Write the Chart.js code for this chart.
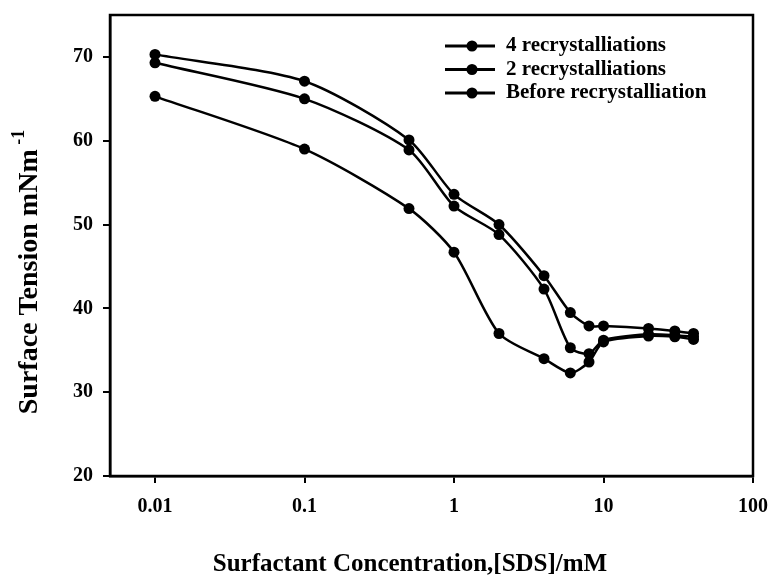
<!DOCTYPE html>
<html>
<head>
<meta charset="utf-8">
<script src="https://cdn.jsdelivr.net/npm/chart.js@4"></script>
<style>
  body { margin: 0; background: #fff; }
</style>
</head>
<body>
<canvas id="chart" width="772" height="584"></canvas>
<script>
const concentrations = [0.01, 0.1, 0.5, 1, 2, 4, 6, 8, 10, 20, 30, 40];
const fourRecryst = [70.3, 67.1, 60.1, 53.6, 50.0, 43.9, 39.5, 37.9, 37.9, 37.6, 37.3, 37.0];
const twoRecryst = [69.3, 65.0, 58.9, 52.2, 48.8, 42.3, 35.3, 34.6, 36.2, 36.9, 36.8, 36.6];
const beforeRecryst = [65.3, 59.0, 51.9, 46.7, 37.0, 34.0, 32.3, 33.6, 36.0, 36.7, 36.6, 36.3];
const seriesLabels = ['4 recrystalliations', '2 recrystalliations', 'Before recrystalliation'];
const xTicks = [0.01, 0.1, 1, 10, 100];
const yTicks = [20, 30, 40, 50, 60, 70];

const serif = '"Liberation Serif", "Times New Roman", serif';

function toPoints(values) {
    return values.map((v, i) => ({ x: concentrations[i], y: v }));
}

function series(label, values) {
    return {
        label: label,
        data: toPoints(values),
        borderColor: '#000',
        backgroundColor: '#000',
        borderWidth: 2.5,
        pointRadius: 5.5,
        pointBorderWidth: 0,
        tension: 0.25
    };
}

// box round the plot area
const framePlugin = {
    id: 'frame',
    beforeDatasetsDraw(chart) {
        const { ctx, chartArea: a } = chart;
        ctx.save();
        ctx.strokeStyle = '#000';
        ctx.lineWidth = 2.5;
        ctx.strokeRect(a.left, a.top, a.right - a.left, a.bottom - a.top);
        ctx.restore();
    }
};

// legend sits inside the plot, top right
const legendPlugin = {
    id: 'insideLegend',
    afterDraw(chart) {
        const ctx = chart.ctx;
        ctx.save();
        ctx.font = 'bold 21px ' + serif;
        ctx.textBaseline = 'middle';
        ctx.fillStyle = '#000';
        ctx.strokeStyle = '#000';
        chart.data.datasets.forEach((ds, i) => {
            const y = 46 + i * 23.5;
            ctx.lineWidth = 3;
            ctx.beginPath();
            ctx.moveTo(445, y);
            ctx.lineTo(495, y);
            ctx.stroke();
            ctx.beginPath();
            ctx.arc(472, y, 5.5, 0, Math.PI * 2);
            ctx.fill();
            ctx.fillText(ds.label, 506, y);
        });
        ctx.restore();
    }
};

// axis titles (y title has a superscript)
const titlesPlugin = {
    id: 'axisTitles',
    afterDraw(chart) {
        const ctx = chart.ctx;
        ctx.save();
        ctx.fillStyle = '#000';
        ctx.textBaseline = 'middle';

        ctx.font = 'bold 25px ' + serif;
        ctx.textAlign = 'center';
        ctx.fillText('Surfactant Concentration,[SDS]/mM', 410, 565);

        const main = 'Surface Tension mNm';
        const sup = ' -1';
        ctx.translate(30, 272);
        ctx.rotate(-Math.PI / 2);
        ctx.font = 'bold 28px ' + serif;
        const wMain = ctx.measureText(main).width;
        ctx.font = 'bold 18px ' + serif;
        const wSup = ctx.measureText(sup).width;
        const start = -(wMain + wSup) / 2;
        ctx.textAlign = 'left';
        ctx.font = 'bold 28px ' + serif;
        ctx.fillText(main, start, 0);
        ctx.font = 'bold 18px ' + serif;
        ctx.fillText(sup, start + wMain, -11);
        ctx.restore();
    }
};

new Chart(document.getElementById('chart'), {
    type: 'line',
    data: {
        datasets: [
            series(seriesLabels[0], fourRecryst),
            series(seriesLabels[1], twoRecryst),
            series(seriesLabels[2], beforeRecryst)
        ]
    },
    options: {
        responsive: false,
        animation: false,
        layout: { padding: { top: 15, right: 19, left: 0, bottom: 0 } },
        plugins: {
            legend: { display: false },
            tooltip: { enabled: false }
        },
        scales: {
            x: {
                type: 'logarithmic',
                min: 0.005,
                max: 100,
                afterBuildTicks: s => { s.ticks = xTicks.map(v => ({ value: v })); },
                afterFit: s => {
                    s.height = 108;
                    s.paddingLeft = 0;
                    s.paddingRight = 0;
                },
                ticks: {
                    callback: v => String(v),
                    color: '#000',
                    font: { family: serif, size: 20, weight: 'bold' },
                    padding: 12,
                    maxRotation: 0,
                    autoSkip: false
                },
                grid: { drawOnChartArea: false, drawTicks: true, tickLength: 7, color: '#000', lineWidth: 2 },
                border: { color: '#000', width: 2.5 }
            },
            y: {
                min: 20,
                max: 75,
                afterBuildTicks: s => { s.ticks = yTicks.map(v => ({ value: v })); },
                afterFit: s => {
                    s.width = 110;
                    s.paddingTop = 0;
                    s.paddingBottom = 0;
                },
                ticks: {
                    color: '#000',
                    font: { family: serif, size: 20, weight: 'bold' },
                    padding: 10
                },
                grid: { drawOnChartArea: false, drawTicks: true, tickLength: 7, color: '#000', lineWidth: 2 },
                border: { color: '#000', width: 2.5 }
            }
        }
    },
    plugins: [framePlugin, legendPlugin, titlesPlugin]
});
</script>
</body>
</html>
